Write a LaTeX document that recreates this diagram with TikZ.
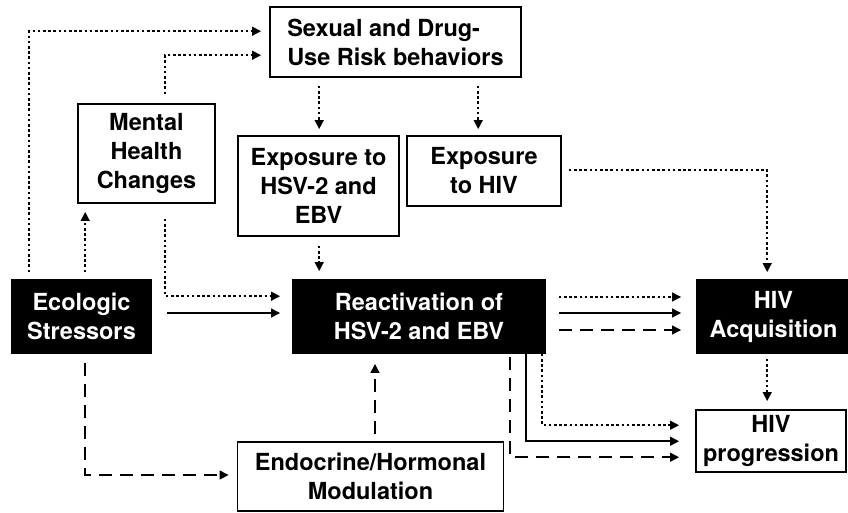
\documentclass[tikz,border=0pt]{standalone}
\usepackage{fontspec}
\setmainfont{TeX Gyre Heros}
\usetikzlibrary{arrows.meta,calc}
\begin{document}
\begin{tikzpicture}[x=1pt,y=-1pt,
  every node/.style={font=\fontsize{23.5}{29}\selectfont\bfseries},
  wbox/.style={draw=black,line width=1.6pt,fill=white,inner sep=0pt,align=center},
  bbox/.style={wbox,fill=black,text=white},
  con/.style={line width=2.5pt,-{Triangle[length=9pt,width=8.5pt]}},
  dotcon/.style={con,dash pattern=on 2.6pt off 2.6pt},
  dashcon/.style={con,dash pattern=on 13pt off 8pt},
]
\useasboundingbox (0,0) rectangle (848,512);

% nodes
\node[wbox,align=left,minimum width=251pt,minimum height=70pt] (sex) at (395.5,42) {Sexual and Drug-\\Use Risk behaviors};
\node[wbox,minimum width=137pt,minimum height=99pt] (mental) at (146.5,153.5) {Mental\\Health\\Changes};
\node[wbox,minimum width=161pt,minimum height=100pt] (hsvx) at (318.5,186) {Exposure to\\HSV-2 and\\EBV};
\node[wbox,minimum width=154pt,minimum height=70pt] (hivx) at (484,171) {Exposure\\to HIV};
\node[bbox,minimum width=139pt,minimum height=73pt] (eco) at (81.5,316.5) {Ecologic\\Stressors};
\node[bbox,minimum width=252pt,minimum height=73pt] (react) at (419,316.5) {Reactivation of\\HSV-2 and EBV};
\node[bbox,minimum width=153pt,minimum height=73pt] (acq) at (773.5,316.5) {HIV\\Acquisition};
\node[wbox,minimum width=150pt,minimum height=62pt] (prog) at (771,441) {HIV\\progression};
\node[wbox,minimum width=266pt,minimum height=69pt] (endo) at (370.5,476.5) {Endocrine/Hormonal\\Modulation};

% helper coordinates
\coordinate (e1) at ($(eco.north west)+(18,0)$);
\coordinate (e2) at ($(eco.north west)+(74,0)$);
\coordinate (e3) at ($(eco.south west)+(74,0)$);
\coordinate (m1) at ($(mental.north west)+(88,0)$);
\coordinate (m2) at ($(mental.south west)+(88,0)$);
\coordinate (s1) at ($(sex.south west)+(50,0)$);
\coordinate (s2) at ($(sex.south west)+(209,0)$);
\coordinate (h1) at ($(hsvx.south west)+(82,0)$);
\coordinate (x1) at ($(hivx.east)+(0,-1)$);
\coordinate (a1) at ($(acq.north west)+(71,0)$);
\coordinate (a2) at ($(acq.south west)+(71,0)$);
\coordinate (r1) at ($(react.south west)+(250,0)$);
\coordinate (r2) at ($(react.south west)+(234,0)$);
\coordinate (r3) at ($(react.south west)+(218,0)$);
\coordinate (n1) at ($(endo.north)+(4.5,0)$);

% connectors
\draw[dotcon,shorten <=7pt,shorten >=8pt] (e1) |- ($(sex.north west)+(0,25)$);
\draw[dotcon,shorten <=9pt,shorten >=8pt] (m1) |- ($(sex.north west)+(0,49)$);
\draw[dotcon,shorten <=7pt,shorten >=8pt] (e2) -- (e2 |- mental.south);
\draw[dotcon,shorten <=15pt,shorten >=12pt] (m2) |- ($(react.north west)+(0,17)$);
\draw[con,shorten <=15pt,shorten >=12pt] ($(eco.east)+(0,-3.5)$) -- ($(react.west)+(0,-3.5)$);
\draw[dotcon,shorten <=8pt,shorten >=6pt] (s1) -- (s1 |- hsvx.north);
\draw[dotcon,shorten <=8pt,shorten >=6pt] (s2) -- (s2 |- hivx.north);
\draw[dotcon,shorten <=9pt,shorten >=8pt] (h1) -- (h1 |- react.north);
\draw[dotcon,shorten <=7pt,shorten >=7pt] (x1) -| (a1);
\draw[dotcon,shorten <=13pt,shorten >=15pt] ($(react.east)+(0,-19.5)$) -- ($(acq.west)+(0,-19.5)$);
\draw[con,shorten <=13pt,shorten >=15pt] ($(react.east)+(0,-3.5)$) -- ($(acq.west)+(0,-3.5)$);
\draw[dashcon,shorten <=13pt,shorten >=15pt] ($(react.east)+(0,13.5)$) -- ($(acq.west)+(0,13.5)$);
\draw[dotcon,shorten <=5pt,shorten >=8pt] (a2) -- (a2 |- prog.north);
\draw[dotcon,shorten >=16pt] (r1) |- ($(prog.north west)+(0,16)$);
\draw[con,shorten >=16pt] (r2) |- ($(prog.north west)+(0,32)$);
\draw[dashcon,shorten <=3pt,shorten >=16pt] (r3) |- ($(prog.north west)+(0,48)$);
\draw[dashcon,shorten <=9pt,shorten >=8pt] (e3) |- ($(endo.west)+(0,-1.5)$);
\draw[dashcon,shorten <=7pt,shorten >=10pt] (n1) -- (n1 |- react.south);
\end{tikzpicture}
\end{document}
